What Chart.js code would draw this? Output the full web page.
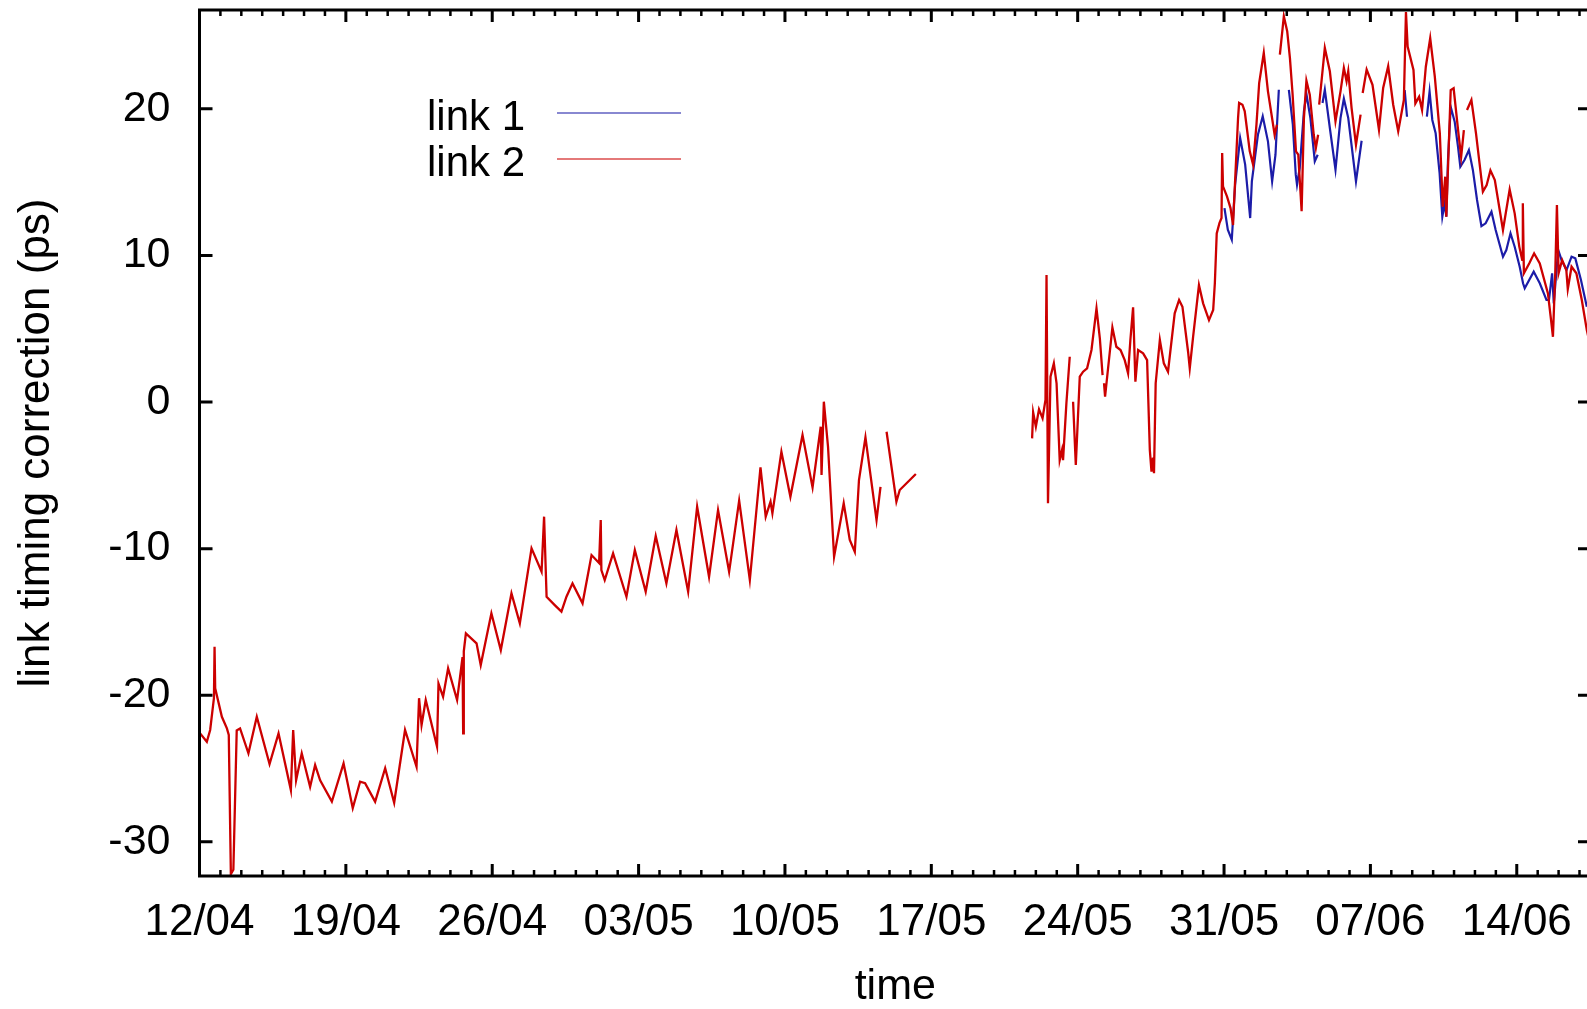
<!DOCTYPE html>
<html lang="en">

<head>
    <meta charset="UTF-8">
    <title>link timing correction</title>
    <script src="https://cdn.jsdelivr.net/npm/chart.js"></script>
    <style>
        html, body { margin: 0; padding: 0; background: #fff; overflow: hidden; }
        .grafico { position: absolute; left: 0; top: 0; width: 1595px; height: 1009px; }
    </style>
</head>

<body>
    <div class="grafico">
        <canvas id="grafico"></canvas>
    </div>
</body>

</html>

<script>
    // x is counted in days from 12/04
    var xTickDays = [0, 7, 14, 21, 28, 35, 42, 49, 56, 63];
    var xTickLabels = ["12/04", "19/04", "26/04", "03/05", "10/05", "17/05", "24/05", "31/05", "07/06", "14/06"];
    var yTicks = [-30, -20, -10, 0, 10, 20];

    var link2Days = [
        0.03, 0.35, 0.51, 0.69, 0.72, 0.75, 1.07, 1.31, 1.40, 1.50,
        1.62, 1.78, 1.94, 2.34, 2.74, 3.35, 3.78, 4.37, 4.48, 4.62,
        4.89, 5.29, 5.53, 5.77, 6.33, 6.89, 7.33, 7.68, 7.92, 8.40,
        8.88, 9.31, 9.83, 10.38, 10.50, 10.62, 10.82, 11.36, 11.43, 11.65,
        11.89, 12.32, 12.58, 12.61, 12.64, 12.74, 13.25, 13.45, 13.96, 14.41,
        14.92, 15.32, 15.88, 16.36, 16.48, 16.60, 16.99, 17.31, 17.55, 17.84,
        18.32, 18.75, 19.11, 19.19, 19.22, 19.38, 19.78, 20.42, 20.82, 21.34,
        21.82, 22.33, 22.81, 23.37, 23.80, 24.37, 24.80, 25.33, 25.81, 26.32,
        26.83, 27.08, 27.31, 27.40, 27.83, 28.26, 28.84, 29.32, 29.71, 29.75,
        29.86, 30.06, 30.35, 30.81, 31.10, 31.34, 31.54, 31.85, 32.38, 32.57,
        32.65, 32.86, 33.33, 33.49, 34.26, 36.00,
        39.82, 39.87, 40.00, 40.15, 40.32, 40.46, 40.51, 40.58, 40.70, 40.86,
        40.99, 41.14, 41.25, 41.30, 41.46, 41.62, 41.70, 41.78, 41.91, 42.10,
        42.26, 42.45, 42.66, 42.90, 43.06, 43.19, 43.22, 43.26, 43.31, 43.66,
        43.85, 44.05, 44.25, 44.41, 44.52, 44.65, 44.76, 44.89, 45.13, 45.32,
        45.45, 45.53, 45.60, 45.65, 45.73, 45.93, 46.12, 46.32, 46.64, 46.85,
        47.01, 47.28, 47.36, 47.52, 47.80, 48.00, 48.28, 48.48, 48.56, 48.65,
        48.78, 48.88, 48.91, 48.95, 49.14, 49.31, 49.43, 49.67, 49.72, 49.88,
        49.99, 50.23, 50.39, 50.55, 50.68, 50.90, 51.10, 51.42, 51.53, 51.60,
        51.67, 51.86, 52.02, 52.15, 52.28, 52.44, 52.55, 52.71, 52.82, 52.94,
        53.10, 53.29, 53.39, 53.50, 53.52, 53.55, 53.82, 54.06, 54.33, 54.57,
        54.73, 54.86, 54.94, 55.10, 55.31, 55.53, 55.56, 55.63, 55.82, 56.10,
        56.41, 56.61, 56.85, 57.09, 57.33, 57.60, 57.70, 57.78, 58.06, 58.15,
        58.33, 58.47, 58.65, 58.86, 59.08, 59.32, 59.46, 59.58, 59.63, 59.84,
        59.98, 60.21, 60.34, 60.47, 60.52, 60.62, 60.83, 61.05, 61.38, 61.56,
        61.74, 61.95, 62.34, 62.66, 62.90, 63.12, 63.26, 63.29, 63.34, 63.60,
        63.83, 64.10, 64.49, 64.64, 64.73, 64.84, 64.92, 65.00, 65.17, 65.37,
        65.44, 65.62, 65.85, 66.11, 66.35, 66.55
    ];
    var link2Values = [
        -22.6, -23.17, -22.37, -20.2, -16.7, -19.53, -21.47, -22.26, -22.7, -32.2,
        -31.9, -22.4, -22.26, -23.96, -21.47, -24.69, -22.6, -26.47, -22.37, -25.8,
        -23.96, -26.24, -24.76, -25.8, -27.26, -24.65, -27.7, -25.9, -26.0, -27.26,
        -24.98, -27.33, -22.37, -24.88, -20.2, -22.03, -20.33, -23.5, -19.2, -20.1,
        -18.17, -20.33, -17.4, -22.6, -17.0, -15.78, -16.46, -17.94, -14.41, -16.92,
        -13.05, -15.1, -9.98, -11.58, -7.82, -13.28, -13.85, -14.3, -13.28, -12.37,
        -13.73, -10.44, -10.98, -8.05, -11.46, -12.14, -10.32, -13.28, -10.1, -12.94,
        -9.14, -12.37, -8.73, -12.94, -7.14, -11.92, -7.37, -11.58, -6.73, -12.14,
        -4.45, -7.82, -6.8, -7.59, -3.39, -6.46, -2.25, -5.82, -1.68, -4.98,
        0.02, -3.05, -10.55, -6.91, -9.41, -10.21, -5.32, -2.41, -8.05, -5.78,
        null, -2.03, -6.8, -6.0, -4.91, null,
        -2.48, -0.7, -1.68, -0.5, -1.11, 0.14, 8.66, -6.91, 1.73, 2.64,
        1.28, -3.96, -3.27, -3.96, -0.09, 3.09, null, 0.02, -4.3, 1.73,
        2.07, 2.3, 3.55, 6.39, 4.35, 1.84, null, 1.28, 0.36, 5.09,
        3.77, 3.55, 2.86, 1.96, 4.23, 6.46, 1.39, 3.55, 3.32, 2.86,
        -3.27, -4.75, -3.8, -4.86, 1.28, 4.23, 2.64, 2.07, 6.05, 6.96,
        6.5, 3.43, 2.3, 4.45, 7.98, 6.73, 5.59, 6.28, 8.1, 11.5,
        12.2, 12.55, 16.98, 14.71, 14.03, 13.23, 12.07, 19.37, 20.4, 20.28,
        19.83, 17.1, 16.19, 18.92, 21.76, 23.81, 21.19, 18.23, 18.92, null,
        23.69, 26.31, 25.29, 23.47, 20.96, 17.1, 16.87, 13.01, 19.37, 21.92,
        20.96, 18.23, 17.33, 18.23, null, 20.28, 24.15, 22.56, 19.15, 21.19,
        22.78, 21.88, 22.56, 20.05, 17.55, 19.6, null, 21.08, 22.67, 21.64,
        18.57, 21.42, 22.9, 20.28, 18.47, 20.6, 26.6, 24.24, 22.65, 20.37,
        20.83, 19.92, 22.87, 24.81, 22.19, 18.33, 13.32, 15.37, 12.64, 21.28,
        21.4, 18.33, 16.73, 18.55, null, 19.92, 20.6, 18.33, 14.35, 14.8,
        15.8, 15.14, 11.73, 14.5, 12.87, 10.6, 9.69, 13.55, 8.78, 9.46,
        10.14, 9.46, 7.41, 5.59, 4.45, 8.78, 13.44, 8.78, 9.69, 9.0,
        7.7, 9.23, 8.78, 6.96, 4.91, 3.6
    ];

    var link1Days = [
        49.02, 49.18, 49.37, 49.53, 49.77, 50.01, 50.25, 50.33, 50.62, 50.85,
        51.10, 51.30, 51.46, 51.62, 51.80, 52.10, 52.29, 52.43, 52.49, 52.62,
        52.82, 52.94, 53.13, 53.34, 53.48, 53.60, 53.71, 53.82, 54.06, 54.33,
        54.57, 54.73, 54.94, 55.31, 55.58, 56.50, 57.64, 57.75, 58.00, 58.70,
        58.83, 58.96, 59.12, 59.31, 59.44, 59.55, 59.63, 59.71, 59.84, 60.03,
        60.19, 60.30, 60.50, 60.71, 60.90, 61.10, 61.31, 61.51, 61.79, 61.99,
        62.34, 62.50, 62.70, 62.90, 63.14, 63.30, 63.38, 63.81, 64.10, 64.42,
        64.54, 64.69, 64.77, 64.98, 65.14, 65.38, 65.62, 65.80, 66.07, 66.35
    ];
    var link1Values = [
        13.23, 11.75, 11.07, 14.82, 18.01, 16.19, 12.55, 15.05, 18.23, 19.49,
        17.78, 15.05, 16.87, 21.3, null, 21.3, 18.92, 15.51, 14.82, 15.96,
        19.83, 21.01, 19.37, 16.42, 16.87, null, 20.4, 21.3, 18.69, 15.85,
        19.37, 20.69, 19.37, 15.05, 17.82, null, 21.28, 19.46, null, 19.46,
        21.17, 19.24, 18.33, 15.6, 12.64, 13.55, 12.64, 16.51, 20.14, 19.12,
        17.41, 16.05, 16.51, 17.19, 15.83, 13.78, 12.0, 12.19, 12.98, 11.73,
        9.91, 10.37, 11.51, 10.59, 9.23, 8.1, 7.76, 8.89, 8.1, 6.96,
        6.96, 8.78, 6.73, 10.37, 9.69, 9.0, 9.91, 9.8, 8.32, 6.5
    ];

    var fonte = "'Liberation Sans', Arial, sans-serif";

    function montarPontos(dias, valores) {
        var pontos = [];
        for (var i = 0; i < dias.length; i++) {
            pontos.push({ x: dias[i], y: valores[i] });
        }
        return pontos;
    }

    // frame, inward ticks on all four sides and the legend, gnuplot style
    var molduraPlugin = {
        id: 'moldura',
        afterDatasetsDraw: function (chart) {
            var ctx = chart.ctx;
            var area = chart.chartArea;
            var escalaX = chart.scales.x;
            var escalaY = chart.scales.y;

            ctx.save();
            ctx.strokeStyle = '#000';
            ctx.lineWidth = 3;
            ctx.strokeRect(area.left, area.top, area.right - area.left, area.bottom - area.top);

            for (var dia = Math.ceil(escalaX.min); dia <= escalaX.max; dia++) {
                var maior = xTickDays.indexOf(dia) >= 0;
                var tamanho = maior ? 12 : 6;
                var px = escalaX.getPixelForValue(dia);
                ctx.lineWidth = maior ? 3 : 2.5;
                ctx.beginPath();
                ctx.moveTo(px, area.bottom);
                ctx.lineTo(px, area.bottom - tamanho);
                ctx.moveTo(px, area.top);
                ctx.lineTo(px, area.top + tamanho);
                ctx.stroke();
            }

            ctx.lineWidth = 3;
            for (var i = 0; i < yTicks.length; i++) {
                var py = escalaY.getPixelForValue(yTicks[i]);
                ctx.beginPath();
                ctx.moveTo(area.left, py);
                ctx.lineTo(area.left + 13, py);
                ctx.moveTo(area.right, py);
                ctx.lineTo(area.right - 13, py);
                ctx.stroke();
            }

            // legend: label on the left, sample line on the right
            var linhasLegenda = [113, 159];
            var conjuntos = chart.data.datasets;
            ctx.font = '42px ' + fonte;
            ctx.textBaseline = 'middle';
            ctx.textAlign = 'left';
            for (var j = 0; j < conjuntos.length; j++) {
                ctx.fillStyle = '#000';
                ctx.fillText(conjuntos[j].label, 427, linhasLegenda[j] + 5);
                ctx.globalAlpha = 0.7;
                ctx.strokeStyle = conjuntos[j].borderColor;
                ctx.lineWidth = 1.6;
                ctx.beginPath();
                ctx.moveTo(557, linhasLegenda[j]);
                ctx.lineTo(681, linhasLegenda[j]);
                ctx.stroke();
                ctx.globalAlpha = 1;
            }
            ctx.restore();
        }
    };

    const grafico = document.getElementById('grafico');
    new Chart(grafico, {
        type: 'line',
        data: {
            datasets: [{
                label: 'link 1',
                data: montarPontos(link1Days, link1Values),
                borderColor: '#1c1ca8',
                borderWidth: 2.2,
                order: 1
            }, {
                label: 'link 2',
                data: montarPontos(link2Days, link2Values),
                borderColor: '#cc0000',
                borderWidth: 2.3,
                order: 0
            }]
        },
        options: {
            responsive: true,
            maintainAspectRatio: false,
            animation: false,
            spanGaps: false,
            layout: {
                padding: { top: 10, right: 4, bottom: 0, left: 0 }
            },
            elements: {
                point: { radius: 0 },
                line: { tension: 0 }
            },
            plugins: {
                legend: { display: false },
                tooltip: { enabled: false }
            },
            scales: {
                x: {
                    type: 'linear',
                    min: 0,
                    max: 66.55,
                    afterBuildTicks: function (escala) {
                        escala.ticks = xTickDays.map(function (v) { return { value: v }; });
                    },
                    afterFit: function (escala) {
                        escala.height = 133;
                        escala.paddingLeft = 0;
                        escala.paddingRight = 0;
                    },
                    grid: { display: false, drawTicks: false },
                    border: { display: false },
                    ticks: {
                        autoSkip: false,
                        maxRotation: 0,
                        padding: 20,
                        color: '#000',
                        font: { family: fonte, size: 44 },
                        callback: function (valor) {
                            var i = xTickDays.indexOf(valor);
                            return i >= 0 ? xTickLabels[i] : '';
                        }
                    },
                    title: {
                        display: true,
                        text: 'time',
                        color: '#000',
                        font: { family: fonte, size: 43, lineHeight: 1 },
                        padding: { top: 0, bottom: 0 }
                    }
                },
                y: {
                    min: -32.33,
                    max: 26.74,
                    afterBuildTicks: function (escala) {
                        escala.ticks = yTicks.map(function (v) { return { value: v }; });
                    },
                    afterFit: function (escala) {
                        escala.width = 199.5;
                        escala.paddingTop = 0;
                        escala.paddingBottom = 0;
                    },
                    grid: { display: false, drawTicks: false },
                    border: { display: false },
                    ticks: {
                        padding: 29,
                        color: '#000',
                        font: { family: fonte, size: 43 }
                    },
                    title: {
                        display: true,
                        text: 'link timing correction (ps)',
                        color: '#000',
                        font: { family: fonte, size: 44, lineHeight: 1 },
                        padding: { top: 15, bottom: 0 }
                    }
                }
            }
        },
        plugins: [molduraPlugin]
    });
</script>
